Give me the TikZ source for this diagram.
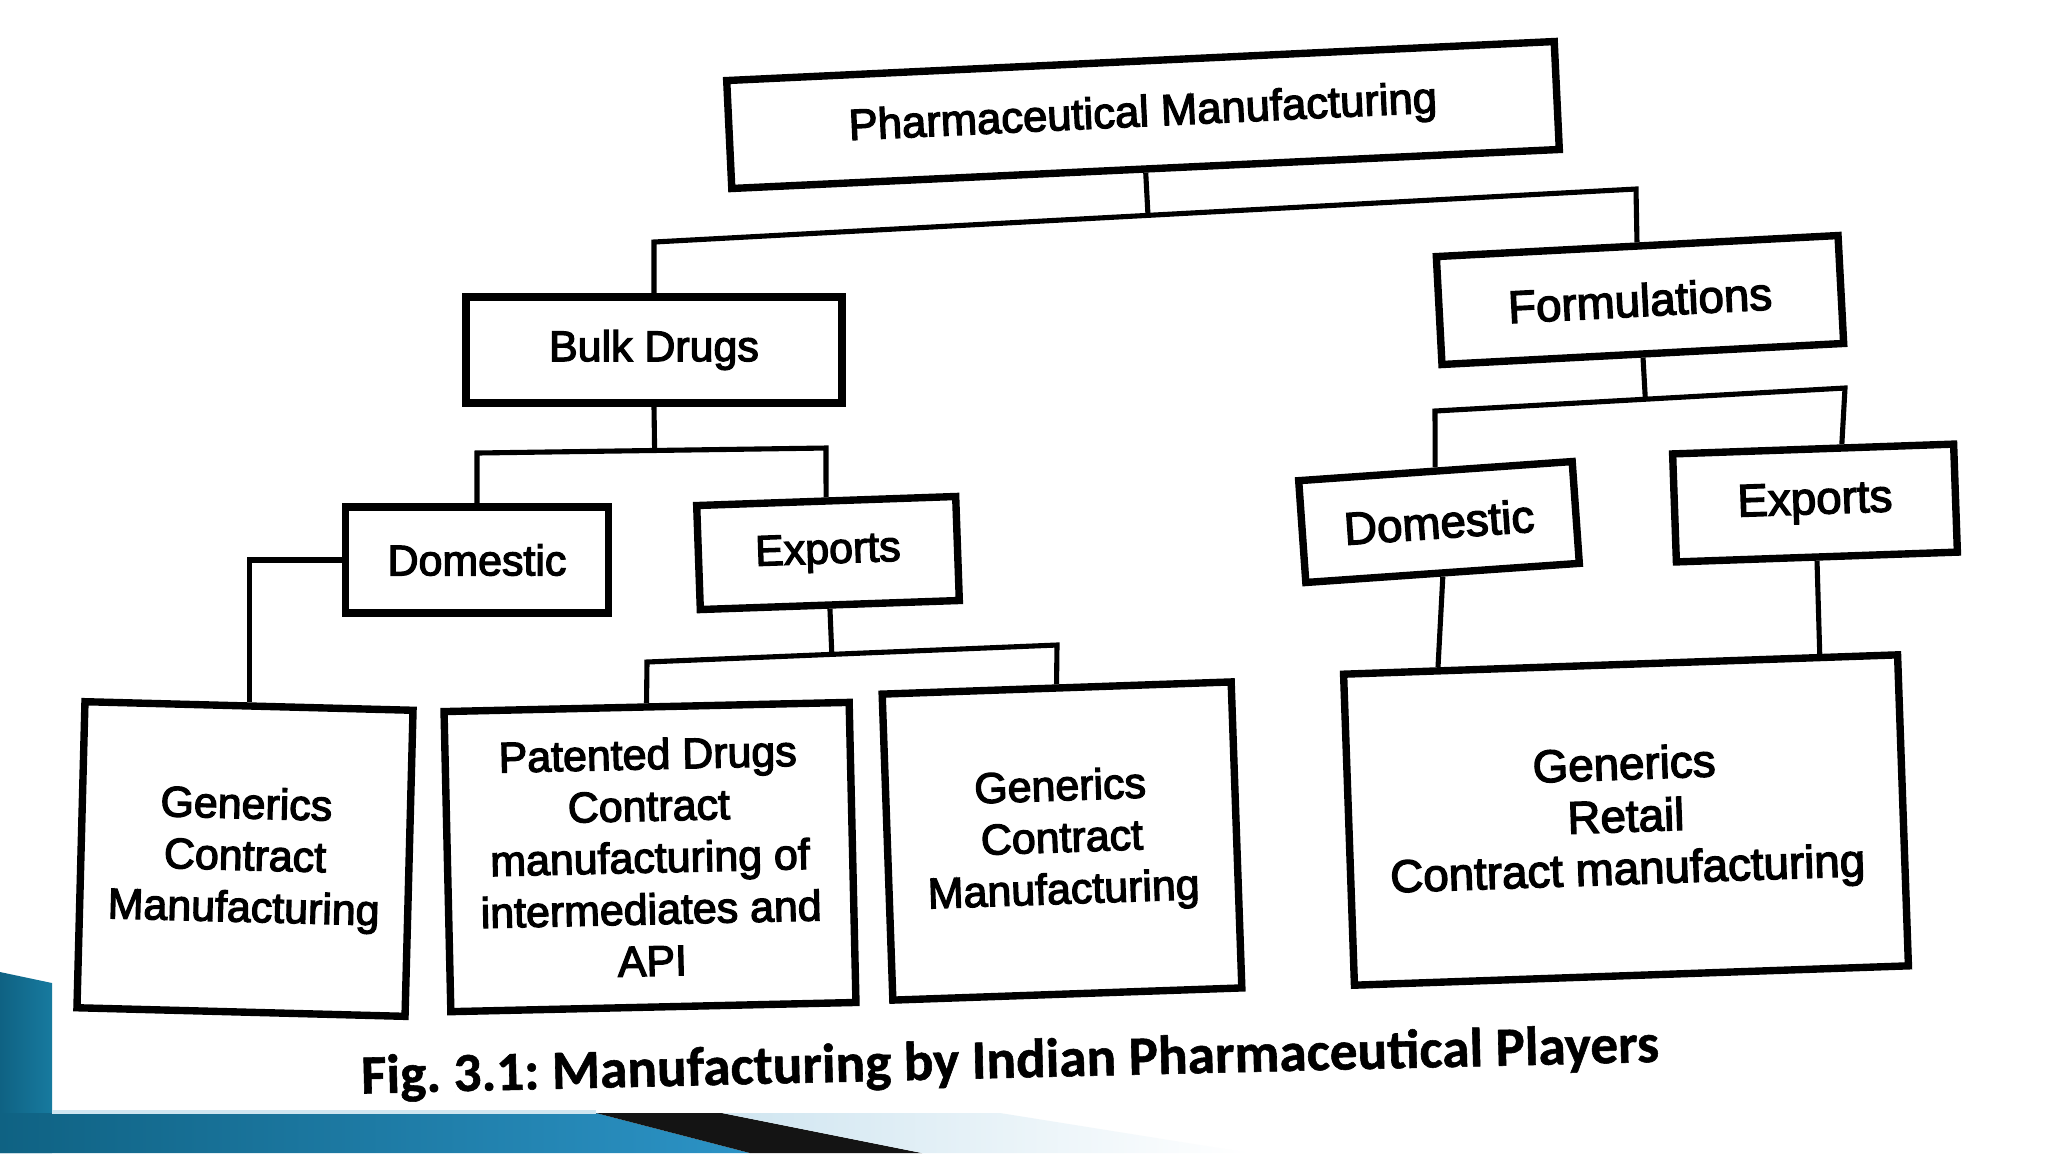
\documentclass[tikz,border=0pt]{standalone}
\usepackage{fontspec}
\newfontfamily\boxfont[FakeBold=3]{Liberation Sans}
\newfontfamily\capfont[FakeBold=1]{Carlito}
\usetikzlibrary{calc}
\newcommand\fontLeft{\boxfont\fontsize{12.2pt}{14.7pt}\selectfont}
\newcommand\fontMid{\boxfont\fontsize{12.4pt}{14.7pt}\selectfont}
\newcommand\fontRight{\boxfont\fontsize{13pt}{14.9pt}\selectfont}
\definecolor{tealdark}{HTML}{0F6283}
\definecolor{tealbar}{HTML}{177A9F}
\definecolor{tealmid}{HTML}{2C93C6}
\definecolor{teallight}{HTML}{52B5E1}
\definecolor{paleblue}{HTML}{CFE5F0}
\begin{document}
\frenchspacing
\begin{tikzpicture}[x=0.01cm, y=-0.01cm,
  box/.style={draw=black, line width=2.1pt, fill=white, align=center, inner sep=0pt},
  conn/.style={draw=black, line width=1.45pt, line join=miter},
  deco/.style={draw=none}]
\useasboundingbox (0,0) rectangle (2048,1153);
\fill[white] (0,0) rectangle (2048,1153);

% slide decoration (bottom left)
\shade[deco, left color=tealdark, right color=tealbar] (0,972) -- (52,983) -- (52,1153) -- (0,1153) -- cycle;
\shade[deco, left color=tealdark, middle color=teallight, right color=tealmid] (0,1113) -- (596,1113) -- (750,1153) -- (0,1153) -- cycle;
\fill[deco, black!92] (596,1113) -- (722,1113) -- (922,1153) -- (750,1153) -- cycle;
\shade[deco, left color=paleblue, right color=white] (722,1113) -- (1000,1113) -- (1250,1153) -- (922,1153) -- cycle;
\draw[draw=paleblue, line width=1pt] (52,1112) -- (596,1112);

% boxes
\node[box, minimum width=8.28cm, minimum height=1.08cm, rotate=2.7, font=\fontMid] (pm) at (1143,115) {Pharmaceutical Manufacturing};
\node[box, minimum width=3.76cm, minimum height=1.06cm, font=\fontLeft] (bulk) at (654,350) {Bulk Drugs};
\node[box, minimum width=4.02cm, minimum height=1.08cm, rotate=3, font=\fontRight] (form) at (1640,300) {Formulations};
\node[box, minimum width=2.63cm, minimum height=1.06cm, font=\fontLeft] (domL) at (477,560) {Domestic};
\node[box, minimum width=2.59cm, minimum height=1.04cm, rotate=2, font=\fontLeft] (expL) at (828,553) {Exports};
\node[box, minimum width=2.74cm, minimum height=1.02cm, rotate=4, font=\fontRight] (domR) at (1439,522) {Domestic};
\node[box, minimum width=2.81cm, minimum height=1.08cm, rotate=2, font=\fontRight] (expR) at (1815,503) {Exports};
\node[box, minimum width=3.28cm, minimum height=3.06cm, rotate=-1.5, font=\fontLeft] (genL) at (245,859) {Generics\\Contract\\Manufacturing};
\node[box, minimum width=4.05cm, minimum height=3.00cm, rotate=1.3, font=\fontLeft] (pat) at (650,857) {Patented Drugs\\Contract\\manufacturing of\\intermediates and\\API};
\node[box, minimum width=3.49cm, minimum height=3.06cm, rotate=2, font=\fontLeft] (gen2) at (1062,841) {Generics\\Contract\\Manufacturing};
\node[box, minimum width=5.54cm, minimum height=3.11cm, rotate=2, font=\fontRight] (genR) at (1626,820) {Generics\\Retail\\Contract manufacturing};

% connectors
\coordinate (tb) at (654,242);
\coordinate (tf) at (1636,189);
\draw[conn] (pm.south) -- ($(tb)!(pm.south)!(tf)$);
\draw[conn] (bulk.north) -- (tb) -- (tf) -- (form.north);

\coordinate (bl) at (477,453);
\coordinate (br) at (826,448);
\draw[conn] (bulk.south) -- ($(bl)!(bulk.south)!(br)$);
\draw[conn] (domL.north) -- (bl) -- (br) -- (expL.north);

\draw[conn] (domL.west) -| (genL.north);

\coordinate (pl) at (647,662);
\coordinate (gr) at (1057,645);
\draw[conn] (expL.south) -- ($(pl)!(expL.south)!(gr)$);
\draw[conn] (pat.north) -- (pl) -- (gr) -- (gen2.north);

\coordinate (dl) at (1435,411);
\coordinate (er) at (1845,388);
\draw[conn] (form.south) -- ($(dl)!(form.south)!(er)$);
\draw[conn] (domR.north) -- (dl) -- (er) -- ($(expR.north west)!0.6!(expR.north east)$);

\draw[conn] (domR.south) -- ($(genR.north west)!0.175!(genR.north east)$);
\draw[conn] (expR.south) -- ($(genR.north west)!0.855!(genR.north east)$);

% caption
\node[font=\capfont\bfseries\fontsize{15.7pt}{19pt}\selectfont, rotate=1.4, inner sep=0pt] (cap) at (1010,1063) {Fig. 3.1: Manufacturing by Indian Pharmaceutical Players};
\end{tikzpicture}
\end{document}
